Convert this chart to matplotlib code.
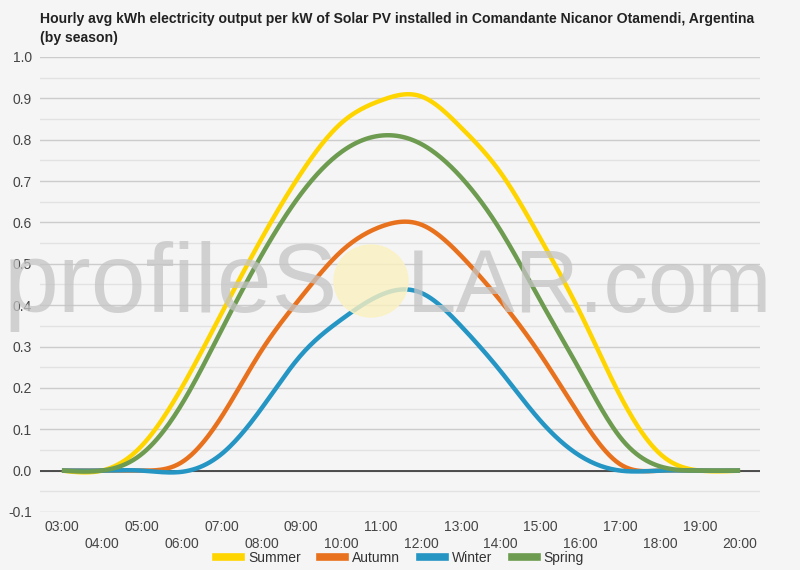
import numpy as np
import matplotlib.pyplot as plt
from matplotlib.lines import Line2D
from matplotlib.patches import Ellipse

plt.rcParams["font.family"] = ["Liberation Sans", "DejaVu Sans"]

hours = list(range(3, 21))
hour_labels = ["%02d:00" % h for h in hours]

summer = [0.0, 0.0, 0.06, 0.20, 0.38, 0.56, 0.72, 0.84, 0.895, 0.905, 0.83, 0.72, 0.56, 0.38, 0.18, 0.04, 0.0, 0.0]
autumn = [0.0, 0.0, 0.0, 0.02, 0.13, 0.29, 0.42, 0.53, 0.59, 0.595, 0.52, 0.41, 0.28, 0.13, 0.015, 0.0, 0.0, 0.0]
winter = [0.0, 0.0, 0.0, -0.003, 0.04, 0.15, 0.28, 0.365, 0.425, 0.43, 0.35, 0.24, 0.12, 0.035, 0.0, 0.0, 0.0, 0.0]
spring = [0.0, 0.0, 0.04, 0.16, 0.34, 0.52, 0.67, 0.77, 0.81, 0.79, 0.71, 0.58, 0.41, 0.24, 0.08, 0.01, 0.0, 0.0]

series = ["Summer", "Autumn", "Winter", "Spring"]
colors = ["#ffd500", "#e8711e", "#2595c4", "#6d9b50"]


def smooth(x, y, n=400):
    # natural cubic spline, just for drawing the curve
    x = np.asarray(x, float)
    y = np.asarray(y, float)
    k = len(x)
    h = np.diff(x)
    A = np.zeros((k, k))
    b = np.zeros(k)
    A[0, 0] = A[-1, -1] = 1
    for i in range(1, k - 1):
        A[i, i - 1] = h[i - 1]
        A[i, i] = 2 * (h[i - 1] + h[i])
        A[i, i + 1] = h[i]
        b[i] = 6 * ((y[i + 1] - y[i]) / h[i] - (y[i] - y[i - 1]) / h[i - 1])
    m = np.linalg.solve(A, b)
    xs = np.linspace(x[0], x[-1], n)
    idx = np.clip(np.searchsorted(x, xs) - 1, 0, k - 2)
    x0, x1 = x[idx], x[idx + 1]
    hh = x1 - x0
    t0, t1 = x1 - xs, xs - x0
    ys = (m[idx] * t0 ** 3 + m[idx + 1] * t1 ** 3) / (6 * hh) \
        + (y[idx] / hh - m[idx] * hh / 6) * t0 \
        + (y[idx + 1] / hh - m[idx + 1] * hh / 6) * t1
    return xs, ys


fig = plt.figure(figsize=(8, 5.7), dpi=100)
fig.patch.set_facecolor("#f5f5f5")
ax = fig.add_axes([0.05, 0.1018, 0.90, 0.7982])
ax.set_facecolor("#f5f5f5")

# watermark
fig.text(0.005, 1 - 312 / 570, "profileS", fontsize=71, color="#c4c4c4", alpha=0.75,
         va="baseline", ha="left", zorder=0)
fig.text(0.508, 1 - 312 / 570, "LAR.com", fontsize=64, color="#c4c4c4", alpha=0.75,
         va="baseline", ha="left", zorder=0)
fig.patches.append(Ellipse((371 / 800, 1 - 281 / 570), 74 / 800, 72 / 570,
                           transform=fig.transFigure, color="#fbf1c0",
                           alpha=0.8, zorder=0))

for yv in np.arange(-0.1, 1.01, 0.05):
    major = abs(round(yv * 10) - yv * 10) < 1e-6
    ax.axhline(yv, color="#cccccc" if major else "#e2e2e2", lw=1, zorder=1)
ax.axhline(0, color="#333333", lw=1.2, zorder=2)

for name, vals, c in zip(series, [summer, autumn, winter, spring], colors):
    xs, ys = smooth(hours, vals)
    ax.plot(xs, ys, color=c, lw=3.2, zorder=3, solid_capstyle="butt")

ax.set_xlim(2.45, 20.5)
ax.set_ylim(-0.1, 1.0)
ax.set_yticks(np.arange(-0.1, 1.01, 0.1))
ax.set_yticklabels(["%.1f" % v for v in np.arange(-0.1, 1.01, 0.1)])
ax.set_xticks(hours)
ax.set_xticklabels([lab if i % 2 == 0 else "\n" + lab for i, lab in enumerate(hour_labels)])
ax.tick_params(length=0, labelsize=10, colors="#444444", pad=6)
for s in ax.spines.values():
    s.set_visible(False)

fig.text(0.05, 1 - 19 / 570, "Hourly avg kWh electricity output per kW of Solar PV installed in Comandante Nicanor Otamendi, Argentina",
         fontsize=10.1, fontweight="bold", color="#222222", ha="left", va="center")
fig.text(0.05, 1 - 38 / 570, "(by season)", fontsize=10.1, fontweight="bold", color="#222222",
         ha="left", va="center")

handles = [Line2D([], [], color=c, lw=5.5) for c in colors]
fig.legend(handles, series, loc="center", bbox_to_anchor=(0.5, 1 - 558 / 570), ncol=4,
           frameon=False, fontsize=10, handlelength=1.8, columnspacing=1.4,
           handletextpad=0.5, labelcolor="#333333")

fig.savefig("out.png", dpi=100, facecolor=fig.get_facecolor())
